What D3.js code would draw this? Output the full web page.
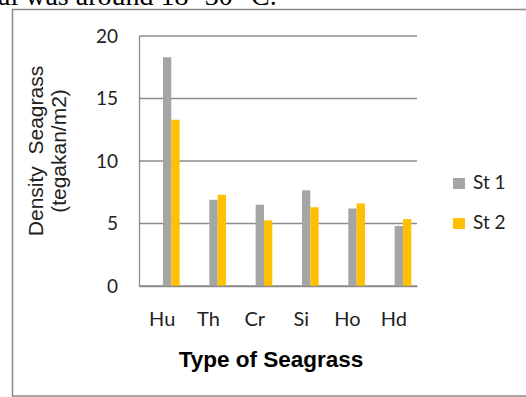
<!DOCTYPE html>
<html>
<head>
<meta charset="utf-8">
<script src="https://cdn.jsdelivr.net/npm/d3@7/dist/d3.min.js"></script>
<style>
  html, body { margin: 0; padding: 0; background: #fff; }
  svg { display: block; }
</style>
</head>
<body>
<script>
// Seagrass density per species at two stations
const categories = ["Hu", "Th", "Cr", "Si", "Ho", "Hd"];
const st1 = [18.3, 6.9, 6.5, 7.65, 6.2, 4.8];
const st2 = [13.3, 7.3, 5.25, 6.3, 6.6, 5.35];
const seriesNames = ["St 1", "St 2"];
const seriesColors = ["#A5A5A5", "#FFC000"];
const yTicks = [0, 5, 10, 15, 20];

const W = 526, H = 397;
const svg = d3.select("body").append("svg").attr("width", W).attr("height", H);

// running text from the page above the figure, clipped at the top edge
svg.append("text")
  .attr("x", -2).attr("y", 5)
  .attr("font-family", "Liberation Serif, serif")
  .attr("font-size", 28)
  .attr("fill", "#000")
  .text("al was around 18 -30 \u00B0C.");

// figure frame
svg.append("rect")
  .attr("x", 12.5).attr("y", 9.5)
  .attr("width", 600).attr("height", 386.5)
  .attr("fill", "none")
  .attr("stroke", "#8a8a8a")
  .attr("stroke-width", 1.5);

const plot = { left: 139, right: 417, top: 36, bottom: 286 };

const x = d3.scaleBand().domain(categories).range([plot.left, plot.right]).paddingInner(0).paddingOuter(0);
const y = d3.scaleLinear().domain([0, 20]).range([plot.bottom, plot.top]);

// horizontal gridlines
svg.append("g").selectAll("line").data(yTicks).join("line")
  .attr("x1", plot.left).attr("x2", plot.right)
  .attr("y1", d => y(d)).attr("y2", d => y(d))
  .attr("stroke", "#8c8c8c").attr("stroke-width", 1.3);

// y axis labels
const yAxis = d3.axisLeft(y).tickValues(yTicks).tickSize(0).tickPadding(21);
const gy = svg.append("g").attr("transform", `translate(${plot.left},0)`).call(yAxis);
gy.select(".domain").attr("stroke", "#8c8c8c").attr("stroke-width", 1.3);
gy.selectAll("text")
  .attr("font-family", "Lato, 'Open Sans', sans-serif")
  .attr("font-size", 19)
  .attr("fill", "#222");

// bars
const barW = x.bandwidth() * 0.18;
const offset = 0.8;
const rows = categories.map((c, i) => ({ c, v: [st1[i], st2[i]] }));
const groups = svg.append("g").selectAll("g").data(rows).join("g")
  .attr("transform", d => `translate(${x(d.c) + x.bandwidth() / 2 + offset},0)`);
groups.selectAll("rect").data(d => d.v).join("rect")
  .attr("x", (d, i) => i * barW)
  .attr("y", d => y(d))
  .attr("width", barW)
  .attr("height", d => y(0) - y(d))
  .attr("fill", (d, i) => seriesColors[i]);

// bottom axis
const xAxis = d3.axisBottom(x).tickSize(0).tickPadding(26);
const gx = svg.append("g").attr("transform", `translate(0,${plot.bottom})`).call(xAxis);
gx.select(".domain").attr("stroke", "#8c8c8c").attr("stroke-width", 1.3);
gx.selectAll("text")
  .attr("font-family", "Lato, 'Open Sans', sans-serif")
  .attr("font-size", 20)
  .attr("fill", "#222");

// axis titles
svg.append("text")
  .attr("x", 271).attr("y", 367)
  .attr("text-anchor", "middle")
  .attr("font-family", "Liberation Sans, Arial, sans-serif")
  .attr("font-weight", "bold")
  .attr("font-size", 22.5)
  .attr("fill", "#000")
  .text("Type of Seagrass");

const yTitle = svg.append("text")
  .attr("transform", "translate(0,151) rotate(-90)")
  .attr("text-anchor", "middle")
  .attr("font-family", "Liberation Sans, Arial, sans-serif")
  .attr("font-size", 21)
  .attr("fill", "#222")
  .style("white-space", "pre");
yTitle.append("tspan").attr("x", 0).attr("y", 43).text("Density  Seagrass");
yTitle.append("tspan").attr("x", 0).attr("y", 66).text("(tegakan/m2)");

// legend
const legend = svg.append("g").selectAll("g").data(seriesNames).join("g")
  .attr("transform", (d, i) => `translate(453,${178 + i * 40})`);
legend.append("rect")
  .attr("width", 12).attr("height", 11)
  .attr("fill", (d, i) => seriesColors[i]);
legend.append("text")
  .attr("x", 20).attr("y", 11)
  .attr("font-family", "Lato, 'Open Sans', sans-serif")
  .attr("font-size", 19)
  .attr("fill", "#222")
  .text(d => d);
</script>
</body>
</html>
